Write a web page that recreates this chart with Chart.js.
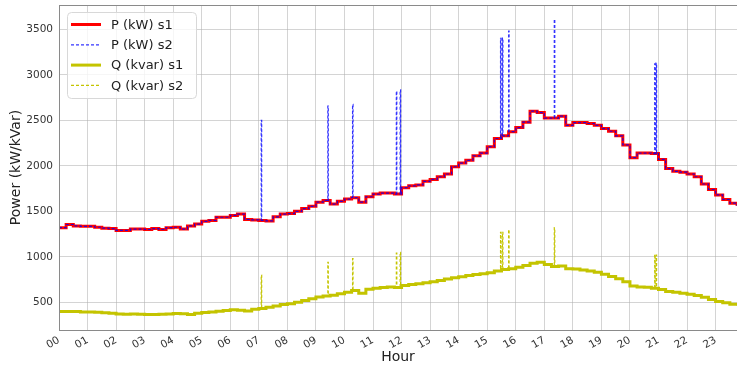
<!DOCTYPE html>
<html>
<head>
<meta charset="utf-8">
<script src="https://cdn.jsdelivr.net/npm/chart.js@4"></script>
<style>
    html, body { margin: 0; padding: 0; background: #fff; overflow: hidden; }
</style>
</head>
<body onload="onLoad()">
<canvas id="chart" width="737" height="368"></canvas>
<script>
const hourLabels = [
    '00', '01', '02', '03', '04', '05', '06', '07', '08', '09', '10', '11',
    '12', '13', '14', '15', '16', '17', '18', '19', '20', '21', '22', '23',
];

// quarter-hour values, 00:00 .. 23:45
const pS1 = [
    1320, 1355, 1340, 1335, 1335, 1325, 1315, 1310, 1290, 1290, 1305, 1305,
    1300, 1310, 1300, 1320, 1325, 1305, 1340, 1360, 1390, 1400, 1435, 1435,
    1455, 1470, 1410, 1405, 1400, 1395, 1440, 1470, 1475, 1500, 1530, 1555,
    1600, 1620, 1580, 1610, 1635, 1650, 1600, 1660, 1690, 1700, 1700, 1690,
    1760, 1780, 1790, 1830, 1850, 1880, 1910, 1990, 2030, 2060, 2110, 2140,
    2210, 2300, 2330, 2375, 2420, 2480, 2600, 2585, 2525, 2525, 2545, 2445,
    2475, 2475, 2465, 2445, 2409, 2380, 2330, 2230, 2090, 2140, 2140, 2135,
    2070, 1970, 1940, 1930, 1910, 1880, 1800, 1740, 1680, 1630, 1590, 1560,
];

const qS1 = [
    400, 400, 398, 395, 393, 390, 385, 380, 372, 370, 372, 368,
    365, 365, 368, 372, 376, 375, 365, 380, 388, 395, 401, 410,
    418, 412, 405, 423, 432, 445, 460, 475, 485, 500, 520, 540,
    558, 570, 577, 595, 610, 630, 600, 645, 655, 662, 668, 662,
    685, 695, 705, 715, 725, 740, 755, 770, 780, 795, 805, 815,
    825, 845, 860, 870, 885, 905, 930, 940, 915, 895, 900, 870,
    865, 855, 845, 830, 808, 785, 760, 725, 680, 668, 665, 655,
    640, 620, 610, 600, 590, 575, 555, 530, 510, 495, 478, 465,
];

// one-minute spikes in the s2 series (minute of day)
const spikeMinute = [425, 565, 617, 709, 717, 928, 932, 945, 1041, 1252, 1255];
const spikeP = [2500, 2655, 2675, 2820, 2835, 3400, 3405, 3480, 3610, 3120, 3130];
const spikeQ = [800, 940, 980, 1040, 1050, 1270, 1270, 1300, 1320, 1025, 1020];

const yTicks = [500, 1000, 1500, 2000, 2500, 3000, 3500];

function stepPoints(values) {
    return values.map((v, i) => ({x: i / 4, y: v}));
}

function withSpikes(values, peaks) {
    let pts = stepPoints(values);
    spikeMinute.forEach((m, i) => {
        let base = values[Math.floor(m / 15)];
        pts.push({x: m / 60, y: peaks[i]});
        pts.push({x: (m + 1) / 60, y: base});
    });
    pts.sort((a, b) => a.x - b.x);
    return pts;
}

const font = '"DejaVu Sans", sans-serif';

const frame = {
    id: 'frame',
    afterDatasetsDraw(chart) {
        const a = chart.chartArea;
        const ctx = chart.ctx;
        ctx.save();
        ctx.strokeStyle = '#8a8a8a';
        ctx.lineWidth = 1;
        ctx.strokeRect(Math.round(a.left) + 0.5, Math.round(a.top) + 0.5,
            Math.round(a.right - a.left), Math.round(a.bottom - a.top));
        ctx.restore();
    }
};

const boxLegend = {
    id: 'boxLegend',
    afterDraw(chart) {
        const a = chart.chartArea;
        const ctx = chart.ctx;
        const x = Math.round(a.left) + 8, y = Math.round(a.top) + 7, w = 129, h = 86;
        ctx.save();
        ctx.fillStyle = 'rgba(255,255,255,0.8)';
        ctx.strokeStyle = '#d8d8d8';
        ctx.lineWidth = 1;
        ctx.beginPath();
        ctx.roundRect(x + 0.5, y + 0.5, w, h, 4);
        ctx.fill();
        ctx.stroke();
        chart.data.datasets.forEach((ds, i) => {
            const cy = y + 12.5 + i * 20.3;
            ctx.strokeStyle = ds.borderColor;
            ctx.lineWidth = ds.borderWidth;
            ctx.setLineDash(ds.borderDash || []);
            ctx.beginPath();
            ctx.moveTo(x + 4, cy);
            ctx.lineTo(x + 34, cy);
            ctx.stroke();
            ctx.setLineDash([]);
            ctx.fillStyle = '#222';
            ctx.font = '13px ' + font;
            ctx.textBaseline = 'middle';
            ctx.fillText(ds.label, x + 44, cy + 1);
        });
        ctx.restore();
    }
};

const data = {
    datasets: [{
        label: 'P (kW) s1',
        data: stepPoints(pS1),
        borderColor: 'rgb(255,0,0)',
        borderWidth: 3,
        order: 4,
    }, {
        label: 'P (kW) s2',
        data: withSpikes(pS1, spikeP),
        borderColor: 'rgba(0,0,255,0.8)',
        borderWidth: 1.2,
        borderDash: [3, 2],
        order: 3,
    }, {
        label: 'Q (kvar) s1',
        data: stepPoints(qS1),
        borderColor: 'rgb(196,196,0)',
        borderWidth: 3,
        order: 2,
    }, {
        label: 'Q (kvar) s2',
        data: withSpikes(qS1, spikeQ),
        borderColor: 'rgb(196,196,0)',
        borderWidth: 1.2,
        borderDash: [3, 2],
        order: 1,
    }]
};

const config = {
    type: 'line',
    data: data,
    options: {
        responsive: false,
        animation: false,
        devicePixelRatio: 1,
        layout: {padding: {top: 5, right: 0, left: 0, bottom: 0}},
        elements: {
            point: {radius: 0},
            line: {stepped: 'before', tension: 0, fill: false},
        },
        plugins: {
            legend: {display: false},
            tooltip: {enabled: false},
        },
        scales: {
            x: {
                type: 'linear',
                min: 0,
                max: 23.75,
                afterBuildTicks: (axis) => {
                    axis.ticks = hourLabels.map((l, i) => ({value: i}));
                },
                afterFit: (axis) => {
                    axis.height = 38;
                    axis.paddingLeft = 0;
                    axis.paddingRight = 0;
                },
                grid: {color: 'rgba(176,176,176,0.55)', drawTicks: false},
                border: {display: false},
                ticks: {
                    autoSkip: false,
                    minRotation: 30,
                    maxRotation: 30,
                    padding: 4,
                    color: '#333',
                    font: {family: font, size: 10.5},
                    callback: (v) => hourLabels[v],
                },
                title: {
                    display: true,
                    text: 'Hour',
                    color: '#222',
                    font: {family: font, size: 14},
                    padding: {top: 0, bottom: 2},
                },
            },
            y: {
                min: 196,
                max: 3767,
                afterBuildTicks: (axis) => {
                    axis.ticks = yTicks.map(v => ({value: v}));
                },
                afterFit: (axis) => {
                    axis.width = 59;
                    axis.paddingTop = 0;
                    axis.paddingBottom = 0;
                },
                grid: {color: 'rgba(176,176,176,0.55)', drawTicks: false},
                border: {display: false},
                ticks: {
                    padding: 6,
                    color: '#333',
                    font: {family: font, size: 10.5},
                    callback: (v) => String(v),
                },
                title: {
                    display: true,
                    text: 'Power (kW/kVar)',
                    color: '#222',
                    font: {family: font, size: 14},
                    padding: {top: 8, bottom: 0},
                },
            },
        },
    },
    plugins: [frame, boxLegend],
};

let powerChart;

function onLoad() {
    powerChart = new Chart(document.getElementById('chart'), config);
}
</script>
</body>
</html>
